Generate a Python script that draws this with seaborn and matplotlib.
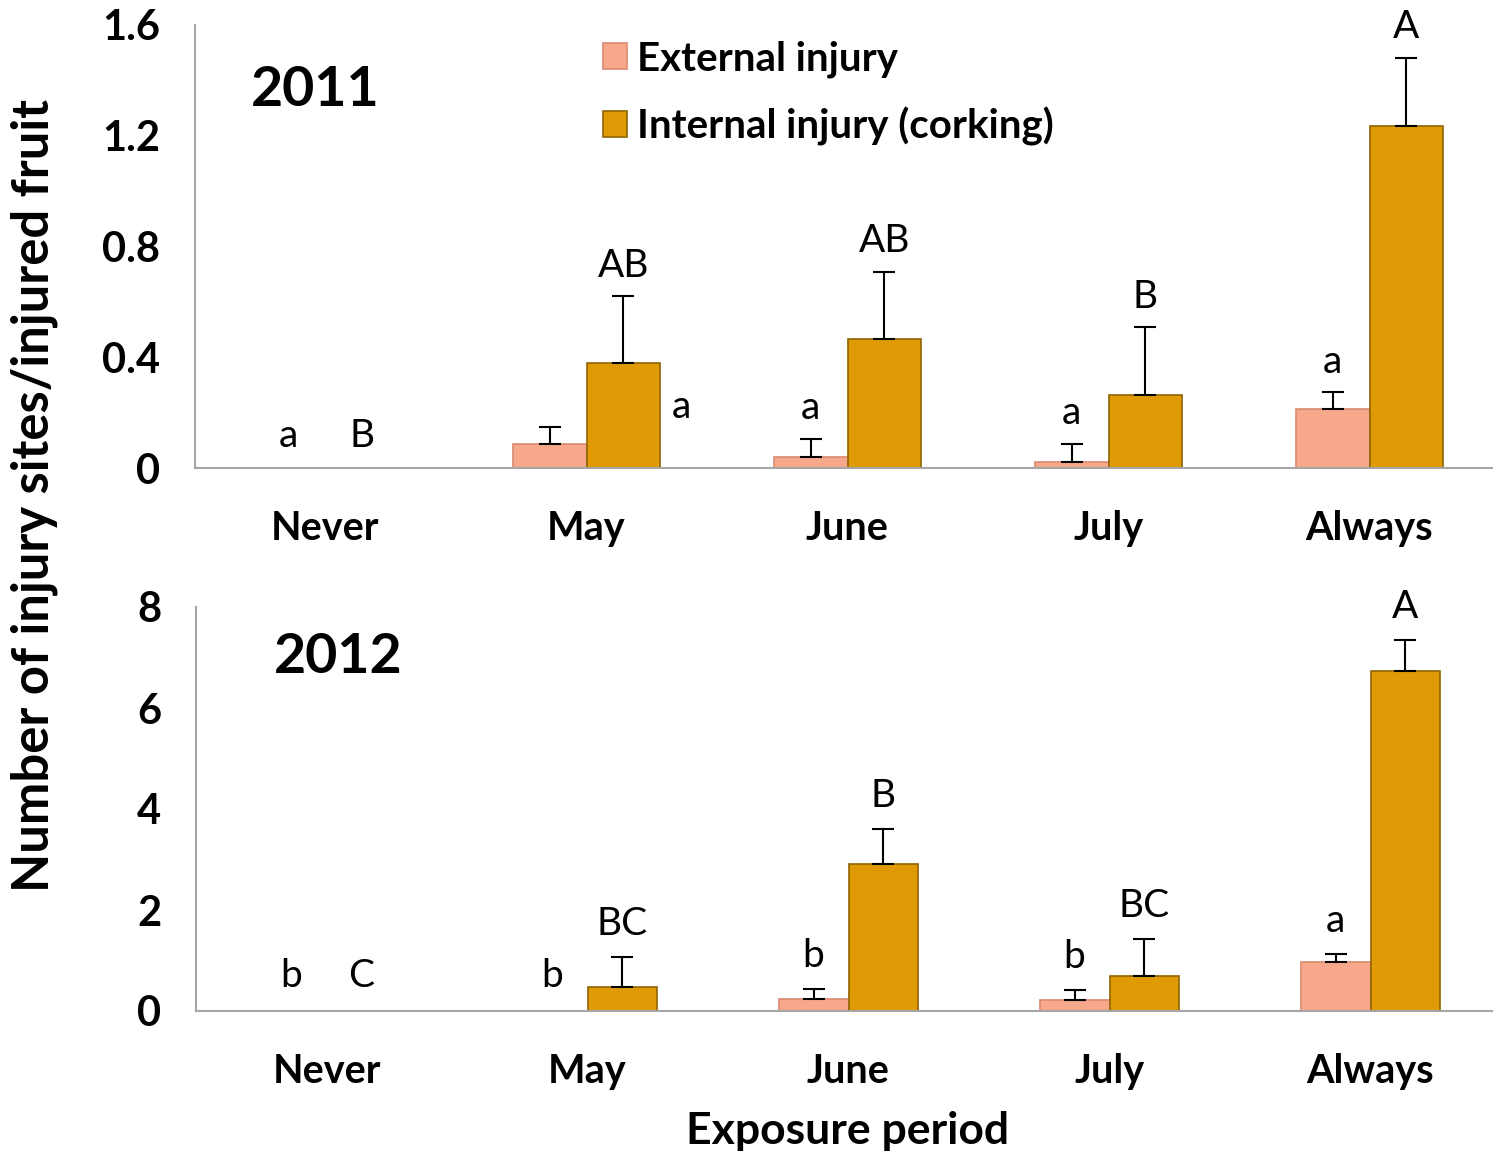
import numpy as np
import pandas as pd
import matplotlib
matplotlib.use("Agg")
import matplotlib.pyplot as plt
import seaborn as sns
from matplotlib.patches import Patch

# Data
periods = ["Never", "May", "June", "July", "Always"]
series = ["External injury", "Internal injury (corking)"]

ext_2011 = [0.0, 0.087, 0.040, 0.022, 0.213]
ext_2011_se = [0.0, 0.061, 0.065, 0.065, 0.061]
int_2011 = [0.0, 0.379, 0.466, 0.264, 1.235]
int_2011_se = [0.0, 0.242, 0.242, 0.245, 0.246]
ext_2011_letters = ["a", "a", "a", "a", "a"]
int_2011_letters = ["B", "AB", "AB", "B", "A"]

ext_2012 = [0.0, 0.0, 0.238, 0.218, 0.97]
ext_2012_se = [0.0, 0.0, 0.198, 0.198, 0.16]
int_2012 = [0.0, 0.475, 2.91, 0.693, 6.73]
int_2012_se = [0.0, 0.595, 0.69, 0.733, 0.62]
ext_2012_letters = ["b", "b", "b", "b", "a"]
int_2012_letters = ["C", "BC", "B", "BC", "A"]

colors = {"External injury": "#F8A88A", "Internal injury (corking)": "#E09A06"}
edges = ["#d98a70", "#8f6400"]

sns.set_style("white")
plt.rcParams["font.family"] = ["Lato", "DejaVu Sans"]
plt.rcParams["text.color"] = "black"
plt.rcParams["xtick.color"] = "black"
plt.rcParams["ytick.color"] = "black"
plt.rcParams["axes.labelcolor"] = "black"

fig = plt.figure(figsize=(14.93, 11.56), dpi=100)
ax1 = fig.add_axes([195 / 1493, 1 - 468 / 1156, 1305 / 1493, 443 / 1156])
ax2 = fig.add_axes([196 / 1493, 1 - 1011 / 1156, 1305 / 1493, 404 / 1156])


def draw_panel(ax, ext, ext_se, intl, int_se, ext_lab, int_lab, width, yticks, yticklabels,
               side_label=None, lift=9):
    df = pd.DataFrame({
        "period": periods * 2,
        "series": [series[0]] * len(periods) + [series[1]] * len(periods),
        "value": ext + intl,
    })
    sns.barplot(data=df, x="period", y="value", hue="series", order=periods,
                hue_order=series, palette=colors, width=width, gap=0,
                errorbar=None, legend=False, ax=ax, saturation=1)

    for k, (cont, se, labs) in enumerate(zip(ax.containers, [ext_se, int_se], [ext_lab, int_lab])):
        for i, (bar, e, lab) in enumerate(zip(cont, se, labs)):
            bar.set_edgecolor(edges[k])
            bar.set_linewidth(1.2)
            xc = bar.get_x() + bar.get_width() / 2
            top = bar.get_height()
            if e > 0:
                ax.errorbar(xc, top, yerr=[[0], [e]], fmt="none", ecolor="black",
                            elinewidth=1.5, capsize=8, capthick=1.5, zorder=3)
            if side_label is not None and k == 0 and i == side_label:
                # letter for this external bar sits beside the internal bar
                ib = ax.containers[1][i]
                ax.annotate(lab, (ib.get_x() + ib.get_width(), ib.get_height() * 0.58),
                            xytext=(8, 0), textcoords="offset points",
                            ha="left", va="center", fontsize=28)
                continue
            ax.annotate(lab, (xc, top + e), xytext=(0, lift if top + e > 0 else lift + 1),
                        textcoords="offset points", ha="center", va="bottom", fontsize=28)

    ax.set_xlim(-0.5, 4.5)
    ax.set_ylim(yticks[0], yticks[-1])
    ax.set_yticks(yticks)
    ax.set_yticklabels(yticklabels, fontsize=30, fontweight="bold")
    ax.set_xticks(range(len(periods)))
    ax.set_xticklabels(periods, fontsize=28.5, fontweight="bold")
    ax.set_xticks(np.arange(-0.5, len(periods), 1), minor=True)
    ax.tick_params(axis="x", which="major", length=0, pad=30)
    ax.tick_params(axis="x", which="minor", length=9, width=1.5, color="#a6a6a6", direction="out")
    ax.tick_params(axis="y", length=9, width=1.5, color="#a6a6a6", direction="out", pad=16)
    ax.set_xlabel("")
    ax.set_ylabel("")
    for s in ["top", "right"]:
        ax.spines[s].set_visible(False)
    for s in ["left", "bottom"]:
        ax.spines[s].set_color("#a6a6a6")
        ax.spines[s].set_linewidth(1.5)
    ax.set_facecolor("none")


draw_panel(ax1, ext_2011, ext_2011_se, int_2011, int_2011_se, ext_2011_letters,
           int_2011_letters, 0.567, [0, 0.4, 0.8, 1.2, 1.6], ["0", "0.4", "0.8", "1.2", "1.6"],
           side_label=1, lift=9)
draw_panel(ax2, ext_2012, ext_2012_se, int_2012, int_2012_se, ext_2012_letters,
           int_2012_letters, 0.535, [0, 2, 4, 6, 8], ["0", "2", "4", "6", "8"], lift=11)

ax1.text(315 / 1493, 1 - 90 / 1156, "2011", transform=fig.transFigure, fontsize=40,
         fontweight="bold", ha="center", va="center")
ax2.text(338 / 1493, 1 - 657 / 1156, "2012", transform=fig.transFigure, fontsize=40,
         fontweight="bold", ha="center", va="center")

handles = [Patch(facecolor=colors[s], edgecolor=e, linewidth=1.2) for s, e in zip(series, edges)]
fig.legend(handles, series, loc="upper left", bbox_to_anchor=(583 / 1493, 1 - 20 / 1156),
           frameon=False, borderpad=0, handlelength=0.6, handleheight=0.6,
           handletextpad=0.25, labelspacing=0.72, prop={"weight": "bold", "size": 29})

fig.text(34 / 1493, 1 - 495 / 1156, "Number of injury sites/injured fruit", rotation=90,
         fontsize=36.5, fontweight="bold", ha="center", va="center")
fig.text(848 / 1493, 1 - 1131 / 1156, "Exposure period", fontsize=32, fontweight="bold",
         ha="center", va="center")

fig.savefig("out.png", dpi=100)
